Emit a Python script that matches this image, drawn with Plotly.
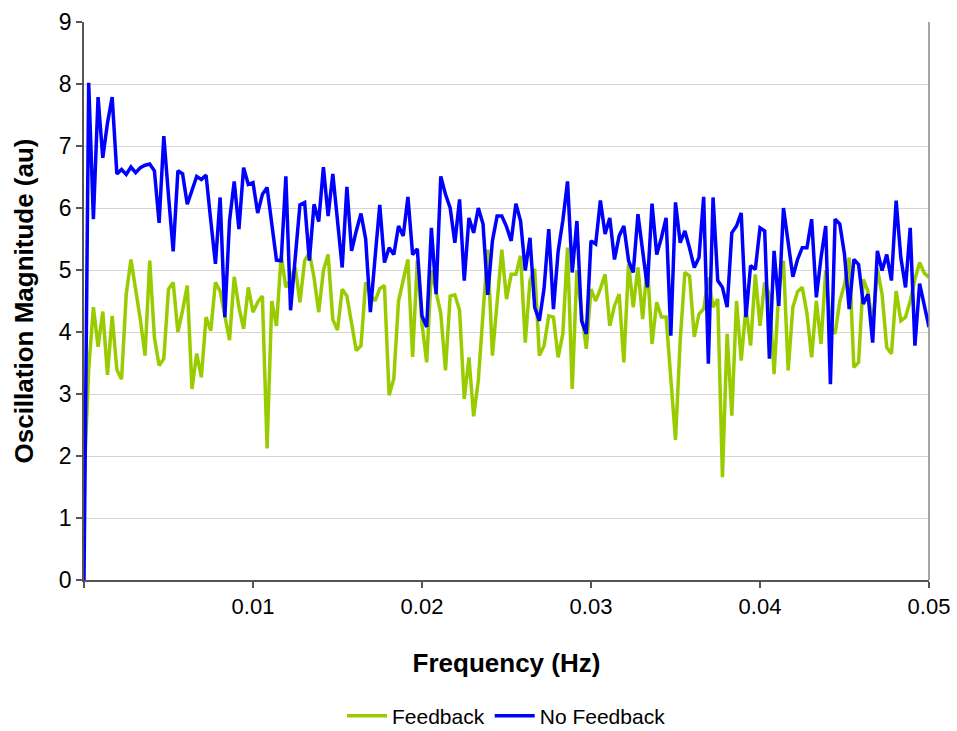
import plotly.graph_objects as go

STEP = 1.0 / 3600.0  # frequency resolution (Hz)

no_feedback = [
    0.0, 8.02, 5.82, 7.79, 6.81, 7.37, 7.79, 6.55, 6.62, 6.54,
    6.66, 6.57, 6.65, 6.69, 6.71, 6.6, 5.76, 7.16, 6.2, 5.3,
    6.6, 6.55, 6.06, 6.27, 6.51, 6.46, 6.53, 5.8, 5.1, 6.17,
    4.24, 5.79, 6.43, 5.66, 6.65, 6.38, 6.41, 5.92, 6.22, 6.33,
    5.75, 5.16, 5.15, 6.51, 4.35, 5.2, 6.05, 6.09, 5.15, 6.06,
    5.78, 6.66, 5.87, 6.55, 5.75, 5.04, 6.34, 5.31, 5.63, 5.91,
    5.5, 4.32, 5.2, 6.05, 5.12, 5.36, 5.25, 5.71, 5.55, 6.18,
    5.25, 5.34, 4.26, 4.08, 5.68, 4.61, 6.51, 6.22, 6.0, 5.44,
    6.14, 4.83, 5.84, 5.6, 6.0, 5.74, 4.6, 5.47, 5.87, 5.87,
    5.7, 5.47, 6.07, 5.79, 4.99, 5.52, 4.4, 4.18, 4.7, 5.66,
    4.37, 5.3, 5.8, 6.43, 4.96, 5.79, 4.18, 3.97, 5.47, 5.42,
    6.12, 5.58, 5.84, 5.17, 5.55, 5.71, 5.15, 4.96, 5.9, 5.25,
    4.72, 6.07, 5.25, 5.52, 5.84, 3.94, 6.09, 5.44, 5.63, 5.35,
    5.04, 5.2, 6.18, 3.49, 6.17, 4.83, 4.72, 4.4, 5.6, 5.71,
    5.92, 4.24, 5.07, 5.01, 5.68, 5.63, 3.57, 5.31, 4.42, 6.0,
    5.4, 4.89, 5.17, 5.36, 5.36, 5.82, 4.56, 5.2, 5.71, 3.16,
    5.82, 5.74, 5.25, 4.37, 5.17, 5.09, 4.45, 4.61, 3.83, 5.31,
    4.99, 5.25, 4.83, 6.12, 5.2, 4.72, 5.68, 3.78, 4.78, 4.45,
    4.08,
]

feedback = [
    1.55, 3.4, 4.4, 3.76, 4.33, 3.31, 4.26, 3.39, 3.24, 4.61,
    5.17, 4.7, 4.2, 3.62, 5.15, 3.91, 3.46, 3.57, 4.69, 4.8,
    4.0, 4.35, 4.75, 3.08, 3.65, 3.27, 4.24, 4.02, 4.8, 4.66,
    4.29, 3.87, 4.89, 4.4, 4.05, 4.72, 4.32, 4.48, 4.58, 2.12,
    4.5, 4.1, 5.23, 4.72, 4.85, 5.04, 4.48, 5.15, 5.28, 4.88,
    4.32, 4.99, 5.25, 4.2, 4.03, 4.69, 4.58, 4.13, 3.7, 3.78,
    4.8, 4.6, 4.5, 4.7, 4.75, 2.98, 3.25, 4.5, 4.85, 5.17,
    3.6, 5.15, 4.13, 3.51, 5.0, 4.66, 4.3, 3.38, 4.58, 4.6,
    4.35, 2.92, 3.59, 2.64, 3.22, 4.3, 5.33, 3.62, 4.5, 5.33,
    4.53, 4.93, 4.93, 5.23, 3.83, 4.83, 5.02, 3.62, 3.78, 4.26,
    4.24, 3.59, 3.97, 5.36, 3.08, 5.0, 4.3, 3.73, 4.69, 4.5,
    4.7, 4.93, 4.1, 4.42, 4.61, 3.51, 5.1, 4.4, 5.04, 4.21,
    5.1, 3.81, 4.48, 4.24, 4.24, 3.3, 2.26, 3.86, 4.96, 4.9,
    3.92, 4.29, 4.37, 4.88, 4.4, 4.53, 1.66, 3.97, 2.65, 4.5,
    3.54, 4.4, 3.78, 4.93, 4.1, 4.8, 4.6, 3.32, 4.66, 5.15,
    3.38, 4.4, 4.65, 4.72, 4.3, 3.59, 4.5, 3.81, 5.0, 4.1,
    3.97, 4.5, 4.77, 5.2, 3.43, 3.51, 4.85, 4.66, 4.1, 5.02,
    4.61, 3.75, 3.65, 4.66, 4.18, 4.24, 4.5, 4.85, 5.12, 4.95,
    4.88,
]

freq_nf = [k * STEP for k in range(len(no_feedback))]
freq_fb = [k * STEP for k in range(len(feedback))]

x_tickvals = [0, 0.01, 0.02, 0.03, 0.04, 0.05]
x_ticktext = ["", "0.01", "0.02", "0.03", "0.04", "0.05"]
y_tickvals = [0, 1, 2, 3, 4, 5, 6, 7, 8, 9]

FONT = "Liberation Sans, Arial, sans-serif"

fig = go.Figure()
fig.add_trace(go.Scatter(x=freq_fb, y=feedback, mode="lines", name="Feedback",
                         line=dict(color="#99CC00", width=3.5)))
fig.add_trace(go.Scatter(x=freq_nf, y=no_feedback, mode="lines", name="No Feedback",
                         line=dict(color="#0000FF", width=3.5)))

fig.update_layout(
    width=957, height=731,
    margin=dict(l=84, r=28, t=22, b=151, autoexpand=False),
    paper_bgcolor="white", plot_bgcolor="white",
    font=dict(family=FONT, color="black", size=22),
    showlegend=True,
    legend=dict(orientation="h", x=0.5, xanchor="center",
                yref="container", y=1 - 716 / 731, yanchor="middle",
                font=dict(size=21, family=FONT), itemwidth=40, tracegroupgap=0),
    xaxis=dict(
        range=[0, 0.05], tickvals=x_tickvals, ticktext=x_ticktext,
        showgrid=False, zeroline=False,
        showline=True, linecolor="#555555", linewidth=1.5,
        ticks="outside", ticklen=6, tickcolor="#555555", tickwidth=1.5,
        tickfont=dict(size=22, family=FONT),
        title=dict(text="<b>Frequency (Hz)</b>", font=dict(size=26, family=FONT), standoff=36),
    ),
    yaxis=dict(
        range=[0, 9], tickvals=y_tickvals,
        showgrid=True, gridcolor="#d4d4d4", gridwidth=1, zeroline=False,
        showline=True, linecolor="#555555", linewidth=1.5,
        ticks="outside", ticklen=6, tickcolor="#555555", tickwidth=1.5,
        tickfont=dict(size=23, family=FONT),
        title=dict(text="<b>Oscillation Magnitude (au)</b>", font=dict(size=26, family=FONT), standoff=18),
    ),
    shapes=[dict(type="line", xref="paper", yref="paper", x0=1, x1=1, y0=0, y1=1,
                 line=dict(color="#888888", width=1.5))],
)

fig.write_html("out.html")
